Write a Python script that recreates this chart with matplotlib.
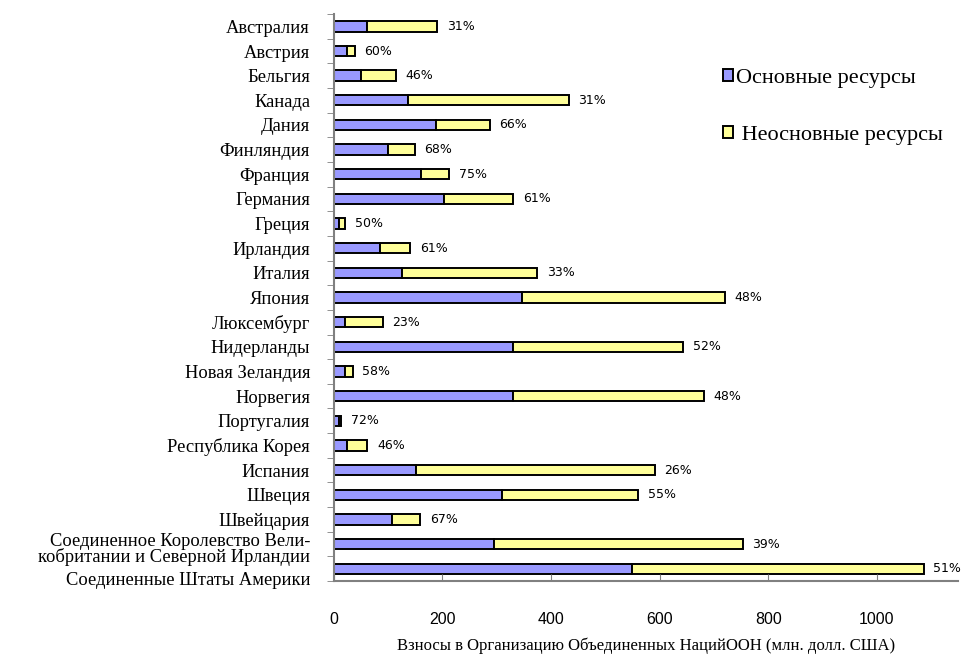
import matplotlib
matplotlib.use("Agg")
import matplotlib.pyplot as plt
import matplotlib.transforms as mtransforms
from matplotlib.patches import Patch
import numpy as np

countries = [
    "Австралия", "Австрия", "Бельгия", "Канада", "Дания", "Финляндия",
    "Франция", "Германия", "Греция", "Ирландия", "Италия", "Япония",
    "Люксембург", "Нидерланды", "Новая Зеландия", "Норвегия", "Португалия",
    "Республика Корея", "Испания", "Швеция", "Швейцария",
    "Соединенное Королевство Вели-\nкобритании и Северной Ирландии",
    "Соединенные Штаты Америки",
]
# млн. долл. США
core = [61, 24, 51, 137, 189, 100, 161, 203, 10, 86, 125, 347,
        21, 331, 20, 331, 9.5, 25, 152, 310, 107, 296, 550]
total = [190, 39, 114, 433, 287, 149, 213, 331, 21, 141, 375, 720,
         90, 643, 35, 681, 13.2, 62, 591, 561, 159, 753, 1086]
pct_labels = ["31%", "60%", "46%", "31%", "66%", "68%", "75%", "61%", "50%",
              "61%", "33%", "48%", "23%", "52%", "58%", "48%", "72%", "46%",
              "26%", "55%", "67%", "39%", "51%"]

noncore = [t - c for t, c in zip(total, core)]
y = np.arange(len(countries))

fig = plt.figure(figsize=(9.61, 6.56), dpi=100)
ax = fig.add_axes([0.3472, 0.1143, 0.650, 0.8643])

ax.barh(y, core, height=0.42, color="#9999FF", edgecolor="black", linewidth=1.4)
ax.barh(y, noncore, left=core, height=0.42, color="#FFFF99", edgecolor="black", linewidth=1.4)

for yi, t, lab in zip(y, total, pct_labels):
    ax.annotate(lab, (t, yi), xytext=(7, 0), textcoords="offset points",
                va="center", ha="left", fontsize=9, family="DejaVu Sans")

ax.set_xlim(0, 1150)
ax.set_ylim(len(countries) - 0.5, -0.5)

ax.set_yticks(y)
ax.set_yticklabels(countries, family="Liberation Serif", fontsize=13.3, linespacing=0.88)
ax.set_yticks(np.arange(-0.5, len(countries), 1), minor=True)
ax.tick_params(axis="y", which="major", length=0, pad=17)
ax.tick_params(axis="y", which="minor", length=5, direction="out", color="#808080")

# shift the last two labels down a bit, like in the original
for lbl, dy in zip(ax.get_yticklabels()[-2:], [-4, -10]):
    lbl.set_transform(lbl.get_transform() + mtransforms.ScaledTranslation(0, dy / 100, fig.dpi_scale_trans))

ax.set_xticks([0, 200, 400, 600, 800, 1000])
ax.tick_params(axis="x", length=5, direction="in", color="#808080", pad=22)
for lbl in ax.get_xticklabels():
    lbl.set_family("Liberation Sans")
    lbl.set_fontsize(11.5)

ax.set_xlabel("Взносы в Организацию Объединенных НацийООН (млн. долл. США)",
              family="Liberation Serif", fontsize=12, labelpad=8)

for side in ["top", "right"]:
    ax.spines[side].set_visible(False)
for side in ["left", "bottom"]:
    ax.spines[side].set_color("#808080")
    ax.spines[side].set_linewidth(1.5)

handles = [Patch(facecolor="#9999FF", edgecolor="black", linewidth=1.4),
           Patch(facecolor="#FFFF99", edgecolor="black", linewidth=1.4)]
fig.legend(handles, ["Основные ресурсы", " Неосновные ресурсы"],
           loc="upper left", bbox_to_anchor=(0.732, 0.925), frameon=False,
           handlelength=0.45, handleheight=0.45, handletextpad=0.1,
           labelspacing=1.7, prop={"family": "Liberation Serif", "size": 16})

fig.savefig("out.png", dpi=100)
